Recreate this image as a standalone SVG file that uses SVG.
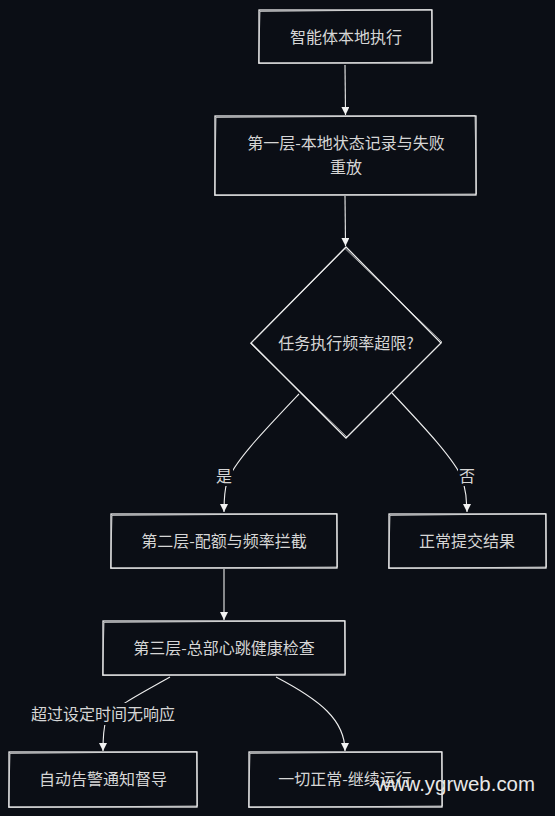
<svg xmlns="http://www.w3.org/2000/svg" width="555" height="816" viewBox="0 0 555 816">
<defs>
<style>
.bg{fill:#0b0e15}
.box{fill:#0b0e15;stroke:#f0f0f0;stroke-width:1.3}
.sk{fill:none;stroke:#e6e6e6;stroke-width:0.9;opacity:0.8}
.lbl{font-family:"Noto Sans CJK SC","Noto Sans",sans-serif;font-size:16px;fill:#d6d6d6;text-anchor:middle}
.edge{fill:none;stroke:#eeeeee;stroke-width:1.1}
.lblbg{fill:#0b0e15}
.wm{font-family:"Liberation Sans",Arial,sans-serif;font-size:20px;fill:#e8e8e8}
</style>
<marker id="arr" viewBox="0 0 10 10" refX="10" refY="5" markerWidth="8" markerHeight="8" markerUnits="userSpaceOnUse" orient="auto">
<path d="M0 0 L10 5 L0 10 Z" fill="#f2f2f2"/>
</marker>
</defs>
<rect class="bg" x="0" y="0" width="555" height="816"/>

<g id="connectors">
<path class="edge" marker-end="url(#arr)" d="M345 65 L345.5 115"/>
<path class="edge" marker-end="url(#arr)" d="M345 196 L345.5 246"/>
<path class="edge" marker-end="url(#arr)" d="M299 394 C262 433 234 462 227 482 C224 492 224 502 224 512"/>
<path class="edge" marker-end="url(#arr)" d="M392 393 C425 428 455 460 463 480 C466 492 467 502 467 512"/>
<path class="edge" marker-end="url(#arr)" d="M224 569 L224 620"/>
<path class="edge" marker-end="url(#arr)" d="M170 677 C140 694 112 708 106 720 C103 730 103 740 103 751"/>
<path class="edge" marker-end="url(#arr)" d="M276 677 C320 700 345 720 345 751"/>
<rect class="lblbg" x="215" y="465" width="18" height="21"/>
<text class="lbl" x="224" y="482">是</text>
<rect class="lblbg" x="458" y="465" width="18" height="21"/>
<text class="lbl" x="467" y="482">否</text>
<rect class="lblbg" x="30" y="703" width="147" height="22"/>
<text class="lbl" x="103" y="720">超过设定时间无响应</text>
</g>

<g id="n1">
<rect class="box" x="259" y="10" width="173" height="53"/>
<path class="sk" d="M260 11.5 L431.5 9.5 L432.5 62 L258.5 63.5 Z"/>
<text class="lbl" x="346" y="43">智能体本地执行</text>
</g>

<g id="n2">
<rect class="box" x="215" y="116" width="261" height="79"/>
<path class="sk" d="M216 117.5 L475 115.5 L476.5 194 L214.5 195.5 Z"/>
<text class="lbl" x="346" y="149">第一层-本地状态记录与失败</text>
<text class="lbl" x="346" y="173">重放</text>
</g>

<g id="n3">
<polygon class="box" points="346,247 441,343 346,438 251,343"/>
<path class="sk" d="M345 248.5 L442 342 L347 437 L250.5 343.5 Z"/>
<text class="lbl" x="346" y="349">任务执行频率超限?</text>
</g>

<g id="n4">
<rect class="box" x="111" y="514" width="226" height="54"/>
<path class="sk" d="M112 515.5 L336.5 513.5 L337.5 567 L110.5 568.5 Z"/>
<text class="lbl" x="224" y="547">第二层-配额与频率拦截</text>
</g>

<g id="n5">
<rect class="box" x="389" y="514" width="157" height="54"/>
<path class="sk" d="M390 515.5 L545.5 513.5 L546.5 567 L388.5 568.5 Z"/>
<text class="lbl" x="467" y="547">正常提交结果</text>
</g>

<g id="n6">
<rect class="box" x="103" y="621" width="242" height="54"/>
<path class="sk" d="M104 622.5 L344.5 620.5 L345.5 674 L102.5 675.5 Z"/>
<text class="lbl" x="224" y="654">第三层-总部心跳健康检查</text>
</g>

<g id="n7">
<rect class="box" x="9" y="752" width="188" height="55"/>
<path class="sk" d="M10 753.5 L196.5 751.5 L197.5 806 L8.5 807.5 Z"/>
<text class="lbl" x="103" y="785">自动告警通知督导</text>
</g>

<g id="n8">
<rect class="box" x="249" y="752" width="193" height="55"/>
<path class="sk" d="M250 753.5 L441.5 751.5 L442.5 806 L248.5 807.5 Z"/>
<text class="lbl" x="345" y="785">一切正常-继续运行</text>
</g>

<text class="wm" x="376" y="791" textLength="159" lengthAdjust="spacingAndGlyphs">www.ygrweb.com</text>
</svg>
